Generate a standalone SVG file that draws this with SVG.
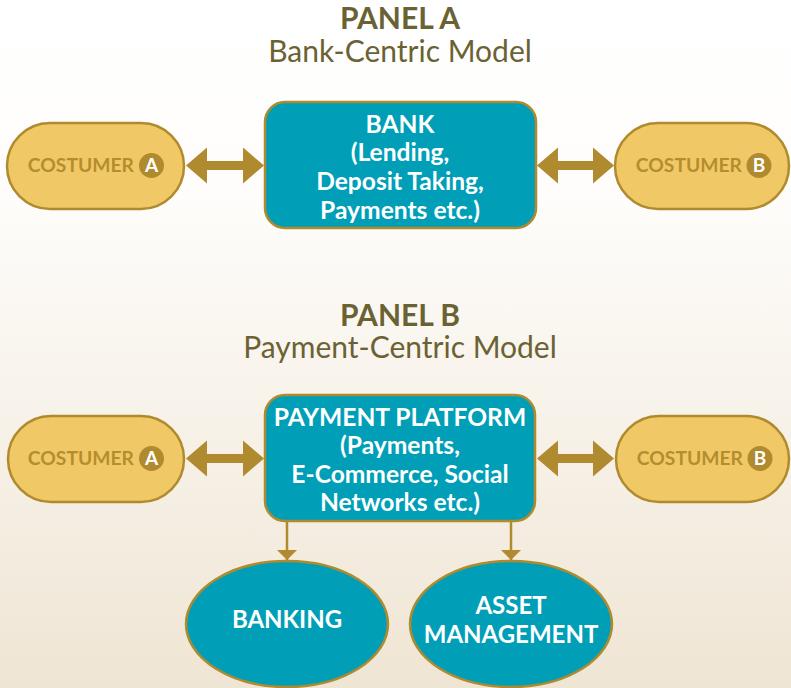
<svg xmlns="http://www.w3.org/2000/svg" width="791" height="688" viewBox="0 0 791 688">
<defs>
<linearGradient id="bg" x1="0" y1="0" x2="0" y2="1">
<stop offset="0" stop-color="#ffffff"/>
<stop offset="0.28" stop-color="#fefdfb"/>
<stop offset="1" stop-color="#efe5d4"/>
</linearGradient>
<marker id="tri" viewBox="0 0 10 20" refX="10" refY="10" markerWidth="10" markerHeight="20" markerUnits="userSpaceOnUse" orient="auto">
<path d="M0,0 L10,10 L0,20 Z" fill="#b08a2e"/>
</marker>
<style>
.pill{fill:#f0c966;stroke:#b08a2e;stroke-width:2.5}
.box{fill:#009fb7;stroke:#b08a2e;stroke-width:2.5}
.ctext{font-family:Lato,"Liberation Sans",sans-serif;font-weight:bold;font-size:19.3px;fill:#b48d2f;text-anchor:end}
.badge{fill:#b08a2e}
.btext{font-family:Lato,"Liberation Sans",sans-serif;font-weight:bold;font-size:19px;fill:#ffffff;text-anchor:middle}
.wtext{font-family:Lato,"Liberation Sans",sans-serif;font-weight:bold;font-size:24.6px;fill:#ffffff;text-anchor:middle}
.etext{font-family:Lato,"Liberation Sans",sans-serif;font-weight:bold;font-size:24px;fill:#ffffff;text-anchor:middle}
.title{font-family:Lato,"Liberation Sans",sans-serif;font-weight:bold;font-size:30px;fill:#6b6234;text-anchor:middle}
.sub{font-family:Lato,"Liberation Sans",sans-serif;font-size:30px;fill:#6b6234;text-anchor:middle}
.arrow{fill:#b08a2e}
.line{stroke:#b08a2e;stroke-width:2.5;fill:none}
</style>
</defs>
<rect x="0" y="0" width="791" height="688" fill="url(#bg)"/>

<g id="titleA">
<text class="title" x="400" y="29">PANEL A</text>
<text class="sub" x="400" y="62">Bank-Centric Model</text>
</g>
<g id="titleB">
<text class="title" x="400" y="326">PANEL B</text>
<text class="sub" x="400" y="358">Payment-Centric Model</text>
</g>

<g id="connectors">
<polygon class="arrow" points="186,165.5 207,147.5 207,161 243,161 243,147.5 264,165.5 243,183.5 243,170 207,170 207,183.5"/>
<polygon class="arrow" points="537,165.5 558,147.5 558,161 593,161 593,147.5 614,165.5 593,183.5 593,170 558,170 558,183.5"/>
<polygon class="arrow" points="186,458.5 207,440.5 207,454 243,454 243,440.5 264,458.5 243,476.5 243,463 207,463 207,476.5"/>
<polygon class="arrow" points="537,458.5 558,440.5 558,454 593,454 593,440.5 614,458.5 593,476.5 593,463 558,463 558,476.5"/>
<line class="line" x1="287" y1="521" x2="287" y2="560" marker-end="url(#tri)"/>
<line class="line" x1="511" y1="521" x2="511" y2="560" marker-end="url(#tri)"/>
</g>

<g id="custA1">
<rect class="pill" x="7" y="123" width="177" height="86" rx="43"/>
<text class="ctext" x="134" y="172">COSTUMER</text>
<circle class="badge" cx="151.5" cy="165.5" r="12.5"/>
<text class="btext" x="151.5" y="172">A</text>
</g>
<g id="bank">
<rect class="box" x="265" y="102" width="271" height="126" rx="20"/>
<text class="wtext" x="400" y="133">BANK</text>
<text class="wtext" x="400" y="161">(Lending,</text>
<text class="wtext" x="400" y="190">Deposit Taking,</text>
<text class="wtext" x="400" y="219">Payments etc.)</text>
</g>
<g id="custB1">
<rect class="pill" x="615" y="123" width="174" height="86" rx="43"/>
<text class="ctext" x="742" y="172">COSTUMER</text>
<circle class="badge" cx="759" cy="165.5" r="12.5"/>
<text class="btext" x="759" y="172">B</text>
</g>

<g id="custA2">
<rect class="pill" x="8" y="416" width="176" height="86" rx="43"/>
<text class="ctext" x="134" y="465">COSTUMER</text>
<circle class="badge" cx="151.5" cy="458.5" r="12.5"/>
<text class="btext" x="151.5" y="465">A</text>
</g>
<g id="platform">
<rect class="box" x="265" y="395" width="270" height="126" rx="20"/>
<text class="wtext" x="400" y="426">PAYMENT PLATFORM</text>
<text class="wtext" x="400" y="454">(Payments,</text>
<text class="wtext" x="400" y="483">E-Commerce, Social</text>
<text class="wtext" x="400" y="511">Networks etc.)</text>
</g>
<g id="custB2">
<rect class="pill" x="616" y="416" width="173" height="86" rx="43"/>
<text class="ctext" x="743" y="465">COSTUMER</text>
<circle class="badge" cx="760" cy="458.5" r="12.5"/>
<text class="btext" x="760" y="465">B</text>
</g>

<g id="banking">
<ellipse class="box" cx="287" cy="624" rx="101" ry="63"/>
<text class="etext" x="287" y="628">BANKING</text>
</g>
<g id="asset">
<ellipse class="box" cx="511" cy="624" rx="101" ry="63"/>
<text class="etext" x="511" y="614">ASSET</text>
<text class="etext" x="511" y="643">MANAGEMENT</text>
</g>
</svg>
